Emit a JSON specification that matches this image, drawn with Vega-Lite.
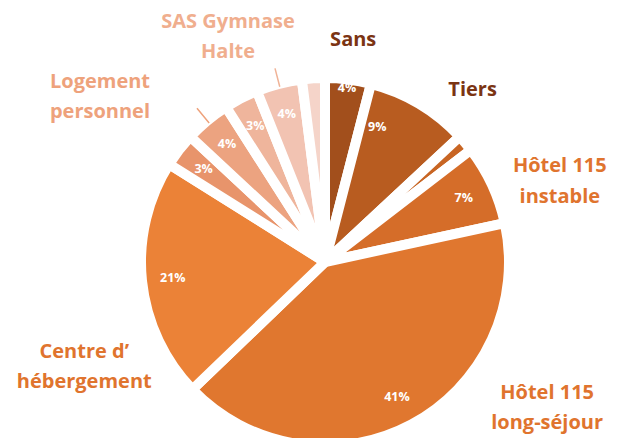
{
  "$schema": "https://vega.github.io/schema/vega-lite/v6.json",
  "width": 560,
  "height": 350,
  "autosize": {"type": "none"},
  "padding": {"left": 45, "top": 87, "right": 20, "bottom": 1},
  "background": "white",
  "config": {"view": {"stroke": null}, "text": {"font": "Open Sans"}},
  "data": {
    "values": [
      {"k": 1, "cat": "Sans", "value": 4, "pct": "4%", "label": "Sans"},
      {"k": 2, "cat": "Tiers", "value": 9, "pct": "9%", "label": "Tiers"},
      {"k": 3, "cat": "Autre", "value": 1.5, "pct": "", "label": ""},
      {"k": 4, "cat": "Hôtel 115 instable", "value": 7, "pct": "7%", "label": "Hôtel 115\ninstable"},
      {"k": 5, "cat": "Hôtel 115 long-séjour", "value": 41, "pct": "41%", "label": "Hôtel 115\nlong-séjour"},
      {"k": 6, "cat": "Centre d’hébergement", "value": 21, "pct": "21%", "label": "Centre d’\nhébergement"},
      {"k": 7, "cat": "Autre A", "value": 3, "pct": "3%", "label": ""},
      {"k": 8, "cat": "Logement personnel", "value": 4, "pct": "4%", "label": "Logement\npersonnel"},
      {"k": 9, "cat": "Autre B", "value": 3, "pct": "3%", "label": ""},
      {"k": 10, "cat": "SAS Gymnase Halte", "value": 4, "pct": "4%", "label": "SAS Gymnase\nHalte"},
      {"k": 11, "cat": "Non précisé", "value": 2, "pct": "", "label": ""}
    ]
  },
  "encoding": {
    "theta": {"field": "value", "type": "quantitative", "stack": true},
    "order": {"field": "k", "type": "quantitative"}
  },
  "layer": [
    {
      "mark": {"type": "arc", "outerRadius": 184, "stroke": "white", "strokeWidth": 10},
      "encoding": {
        "color": {
          "field": "cat",
          "type": "nominal",
          "scale": {
            "domain": ["Sans", "Tiers", "Autre", "Hôtel 115 instable", "Hôtel 115 long-séjour", "Centre d’hébergement", "Autre A", "Logement personnel", "Autre B", "SAS Gymnase Halte", "Non précisé"],
            "range": ["#a24f1c", "#b85c20", "#c86523", "#d56d29", "#e0772f", "#eb8237", "#e8946b", "#eca380", "#efb59c", "#f2c3b2", "#f5d4c9"]
          },
          "legend": null
        }
      }
    },
    {
      "mark": {"type": "arc", "innerRadius": 181, "outerRadius": 200, "padAngle": 3, "fill": "transparent", "strokeWidth": 1.5},
      "encoding": {
        "stroke": {
          "condition": [
            {"test": "datum.cat === 'Logement personnel'", "value": "#eea27c"},
            {"test": "datum.cat === 'SAS Gymnase Halte'", "value": "#f0b397"}
          ],
          "value": "transparent"
        }
      }
    },
    {
      "mark": {"type": "text", "radius": 153, "fontWeight": "bold", "fontSize": 12.5, "color": "white", "align": "center", "baseline": "middle"},
      "encoding": {"text": {"condition": {"test": "datum.k > 3", "field": "pct"}, "value": ""}}
    },
    {
      "mark": {"type": "text", "radius": 175, "fontWeight": "bold", "fontSize": 12.5, "color": "white", "align": "center", "baseline": "middle"},
      "encoding": {"text": {"condition": {"test": "datum.k === 1", "field": "pct"}, "value": ""}}
    },
    {
      "mark": {"type": "text", "radius": 153, "dx": -26, "dy": -4, "fontWeight": "bold", "fontSize": 12.5, "color": "white", "align": "center", "baseline": "middle"},
      "encoding": {"text": {"condition": {"test": "datum.k === 2", "field": "pct"}, "value": ""}}
    },
    {
      "mark": {"type": "text", "radius": 224, "fontWeight": "bold", "fontSize": 20, "lineHeight": 30, "lineBreak": "\n", "color": "#7b3413", "align": "center", "baseline": "middle"},
      "encoding": {"text": {"condition": {"test": "datum.k === 1", "field": "label"}, "value": ""}}
    },
    {
      "mark": {"type": "text", "radius": 226, "dx": 32, "dy": 22, "fontWeight": "bold", "fontSize": 20, "lineHeight": 30, "lineBreak": "\n", "color": "#7b3413", "align": "center", "baseline": "middle"},
      "encoding": {"text": {"condition": {"test": "datum.k === 2", "field": "label"}, "value": ""}}
    },
    {
      "mark": {"type": "text", "radius": 250, "dx": 8, "dy": 9, "fontWeight": "bold", "fontSize": 20, "lineHeight": 31, "lineBreak": "\n", "color": "#e0742e", "align": "center", "baseline": "middle"},
      "encoding": {"text": {"condition": {"test": "datum.k === 4", "field": "label"}, "value": ""}}
    },
    {
      "mark": {"type": "text", "radius": 230, "dx": 114, "dy": -72, "fontWeight": "bold", "fontSize": 20, "lineHeight": 30, "lineBreak": "\n", "color": "#e0742e", "align": "center", "baseline": "middle"},
      "encoding": {"text": {"condition": {"test": "datum.k === 5", "field": "label"}, "value": ""}}
    },
    {
      "mark": {"type": "text", "radius": 240, "dx": -2, "dy": 65, "fontWeight": "bold", "fontSize": 20, "lineHeight": 30, "lineBreak": "\n", "color": "#e0742e", "align": "center", "baseline": "middle"},
      "encoding": {"text": {"condition": {"test": "datum.k === 6", "field": "label"}, "value": ""}}
    },
    {
      "mark": {"type": "text", "radius": 250, "dx": -65, "dy": 12, "fontWeight": "bold", "fontSize": 20, "lineHeight": 30, "lineBreak": "\n", "color": "#eea27c", "align": "center", "baseline": "middle"},
      "encoding": {"text": {"condition": {"test": "datum.k === 8", "field": "label"}, "value": ""}}
    },
    {
      "mark": {"type": "text", "radius": 240, "dx": -37, "dy": -8, "fontWeight": "bold", "fontSize": 20, "lineHeight": 30, "lineBreak": "\n", "color": "#f0ae8e", "align": "center", "baseline": "middle"},
      "encoding": {"text": {"condition": {"test": "datum.k === 10", "field": "label"}, "value": ""}}
    }
  ]
}
